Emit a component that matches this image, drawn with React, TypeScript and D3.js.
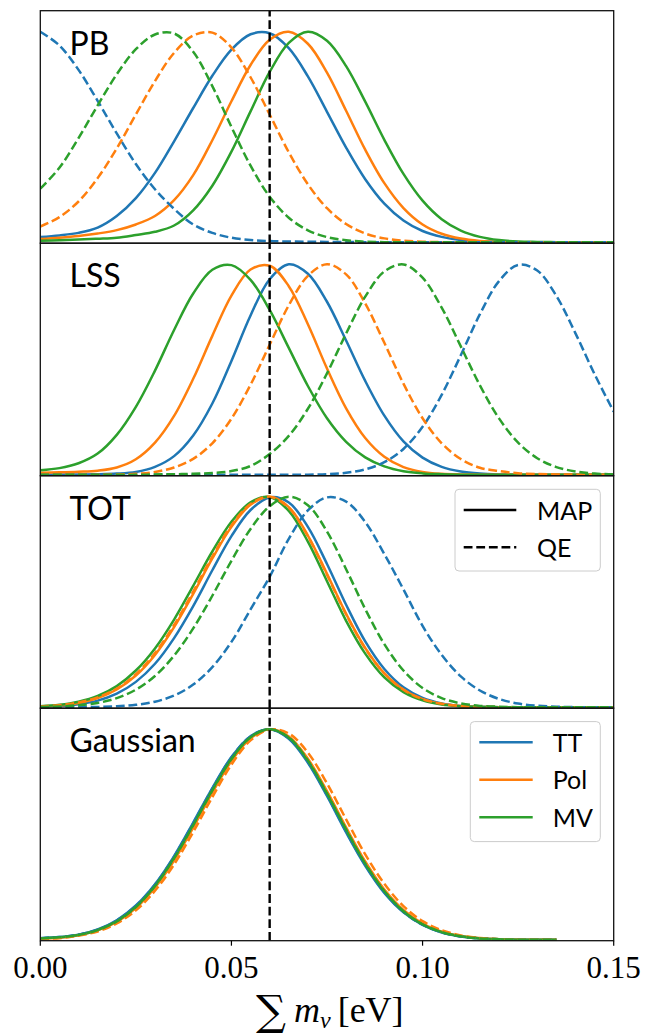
import React from "react";
import * as d3 from "d3";

// ---------- data ----------
// x grid of the posteriors (sum of neutrino masses, eV)
const massGrid = [
  0, 0.005, 0.01, 0.015, 0.02, 0.025, 0.03, 0.035, 0.04, 0.045, 0.05,
  0.055, 0.06, 0.065, 0.07, 0.075, 0.08, 0.085, 0.09, 0.095, 0.1,
  0.105, 0.11, 0.115, 0.12, 0.125, 0.13, 0.135, 0.14, 0.145, 0.15,
];

const seriesNames = ["TT", "Pol", "MV"];
const seriesColors = ["#1f77b4", "#ff7f0e", "#2ca02c"];
const methodNames = ["MAP", "QE"];
const panelLabels = ["PB", "LSS", "TOT", "Gaussian"];
const xTicks = [0, 0.05, 0.1, 0.15];
const xTickLabels = ["0.00", "0.05", "0.10", "0.15"];
const trueMass = 0.06;

// PB
const pbMapTT = [0.025, 0.033, 0.045, 0.07, 0.125, 0.21, 0.33, 0.48, 0.638, 0.791, 0.915, 0.988, 0.993, 0.922, 0.788, 0.62, 0.45, 0.3, 0.184, 0.104, 0.054, 0.026, 0.011, 0.005, 0.002, 0.001, 0, 0, 0, 0, 0];
const pbMapPol = [0.016, 0.022, 0.03, 0.042, 0.058, 0.085, 0.125, 0.2, 0.319, 0.485, 0.67, 0.842, 0.962, 1.0, 0.943, 0.806, 0.625, 0.44, 0.281, 0.163, 0.085, 0.041, 0.018, 0.007, 0.002, 0.001, 0, 0, 0, 0, 0];
const pbMapMV = [0.008, 0.01, 0.013, 0.017, 0.022, 0.035, 0.05, 0.08, 0.152, 0.269, 0.431, 0.622, 0.809, 0.947, 1.0, 0.957, 0.837, 0.668, 0.487, 0.325, 0.198, 0.11, 0.056, 0.026, 0.011, 0.004, 0.002, 0.001, 0, 0, 0];
const pbQeTT = [1.0, 0.935, 0.819, 0.672, 0.517, 0.372, 0.252, 0.159, 0.085, 0.045, 0.022, 0.011, 0.006, 0.004, 0.003, 0.002, 0.002, 0.001, 0.001, 0, 0, 0, 0, 0, 0, 0, 0, 0, 0, 0, 0];
const pbQePol = [0.075, 0.12, 0.194, 0.305, 0.446, 0.607, 0.766, 0.9, 0.982, 0.996, 0.925, 0.784, 0.607, 0.428, 0.276, 0.162, 0.087, 0.042, 0.019, 0.008, 0.003, 0.001, 0, 0, 0, 0, 0, 0, 0, 0, 0];
const pbQeMV = [0.255, 0.354, 0.495, 0.65, 0.798, 0.917, 0.987, 0.992, 0.905, 0.742, 0.548, 0.364, 0.217, 0.117, 0.057, 0.025, 0.01, 0.003, 0.001, 0, 0, 0, 0, 0, 0, 0, 0, 0, 0, 0, 0];

// LSS
const lssMapTT = [0.002, 0.002, 0.002, 0.003, 0.006, 0.014, 0.038, 0.089, 0.187, 0.339, 0.541, 0.757, 0.929, 1.0, 0.955, 0.822, 0.638, 0.446, 0.281, 0.159, 0.082, 0.038, 0.016, 0.006, 0.002, 0.001, 0, 0, 0, 0, 0];
const lssMapPol = [0.01, 0.012, 0.015, 0.02, 0.035, 0.074, 0.153, 0.28, 0.456, 0.66, 0.851, 0.975, 0.993, 0.896, 0.715, 0.505, 0.316, 0.175, 0.086, 0.037, 0.014, 0.005, 0.002, 0.001, 0, 0, 0, 0, 0, 0, 0];
const lssMapMV = [0.022, 0.032, 0.055, 0.101, 0.19, 0.323, 0.495, 0.688, 0.861, 0.974, 0.996, 0.926, 0.783, 0.603, 0.422, 0.269, 0.157, 0.083, 0.04, 0.017, 0.007, 0.003, 0.001, 0, 0, 0, 0, 0, 0, 0, 0];
const lssQeTT = [0, 0, 0, 0, 0, 0, 0, 0, 0, 0, 0, 0, 0, 0.001, 0.001, 0.003, 0.01, 0.026, 0.06, 0.123, 0.228, 0.38, 0.568, 0.763, 0.92, 0.997, 0.97, 0.85, 0.672, 0.478, 0.3];
const lssQePol = [0, 0, 0, 0, 0.002, 0.005, 0.014, 0.035, 0.076, 0.15, 0.267, 0.428, 0.618, 0.805, 0.945, 1.0, 0.952, 0.814, 0.627, 0.433, 0.269, 0.15, 0.075, 0.034, 0.018, 0.008, 0.004, 0.002, 0.001, 0, 0];
const lssQeMV = [0, 0, 0, 0, 0, 0, 0.002, 0.003, 0.005, 0.009, 0.018, 0.042, 0.099, 0.185, 0.314, 0.482, 0.671, 0.846, 0.966, 0.999, 0.936, 0.794, 0.61, 0.425, 0.268, 0.153, 0.079, 0.037, 0.016, 0.006, 0.002];

// TOT
const totMapTT = [0.002, 0.006, 0.015, 0.032, 0.065, 0.121, 0.207, 0.329, 0.481, 0.651, 0.813, 0.937, 0.997, 0.973, 0.857, 0.681, 0.487, 0.313, 0.182, 0.095, 0.045, 0.019, 0.007, 0.003, 0.001, 0, 0, 0, 0, 0, 0];
const totMapPol = [0.004, 0.009, 0.021, 0.044, 0.085, 0.151, 0.249, 0.381, 0.539, 0.707, 0.857, 0.962, 1.0, 0.951, 0.816, 0.634, 0.444, 0.282, 0.161, 0.083, 0.039, 0.016, 0.006, 0.002, 0.001, 0, 0, 0, 0, 0, 0];
const totMapMV = [0.005, 0.012, 0.027, 0.054, 0.101, 0.175, 0.28, 0.417, 0.577, 0.74, 0.881, 0.974, 0.999, 0.933, 0.787, 0.599, 0.411, 0.255, 0.142, 0.072, 0.033, 0.013, 0.005, 0.002, 0.001, 0, 0, 0, 0, 0, 0];
const totQeTT = [0, 0, 0.001, 0.002, 0.005, 0.012, 0.027, 0.056, 0.108, 0.191, 0.311, 0.465, 0.62, 0.8, 0.935, 0.997, 0.977, 0.88, 0.728, 0.56, 0.387, 0.249, 0.147, 0.08, 0.04, 0.018, 0.008, 0.003, 0.001, 0, 0];
const totQePol = [0.004, 0.01, 0.023, 0.047, 0.089, 0.157, 0.258, 0.391, 0.55, 0.716, 0.864, 0.966, 1.0, 0.947, 0.812, 0.63, 0.442, 0.28, 0.161, 0.084, 0.039, 0.017, 0.006, 0.002, 0.001, 0, 0, 0, 0, 0, 0];
const totQeMV = [0.002, 0.004, 0.01, 0.021, 0.044, 0.084, 0.149, 0.246, 0.375, 0.53, 0.696, 0.847, 0.955, 1.0, 0.96, 0.835, 0.656, 0.467, 0.3, 0.175, 0.092, 0.044, 0.019, 0.007, 0.003, 0.001, 0, 0, 0, 0, 0];

// Gaussian (evaluated up to 0.135 only)
const gaussMapTT = [0.008, 0.013, 0.024, 0.049, 0.093, 0.163, 0.264, 0.398, 0.557, 0.721, 0.868, 0.967, 1.0, 0.955, 0.841, 0.683, 0.51, 0.352, 0.223, 0.131, 0.071, 0.035, 0.016, 0.007, 0.003, 0.001, 0, 0];
const gaussMapPol = [0.006, 0.01, 0.022, 0.045, 0.085, 0.151, 0.249, 0.377, 0.533, 0.699, 0.849, 0.957, 1.0, 0.966, 0.86, 0.706, 0.534, 0.372, 0.239, 0.142, 0.077, 0.039, 0.018, 0.008, 0.003, 0.001, 0, 0];
const gaussMapMV = [0.007, 0.012, 0.023, 0.047, 0.089, 0.157, 0.257, 0.389, 0.547, 0.712, 0.86, 0.963, 1.0, 0.96, 0.849, 0.693, 0.521, 0.36, 0.23, 0.135, 0.073, 0.037, 0.017, 0.007, 0.003, 0.001, 0, 0];
const gaussQeTT = [0.008, 0.013, 0.024, 0.048, 0.092, 0.161, 0.262, 0.395, 0.553, 0.718, 0.866, 0.966, 1.0, 0.957, 0.845, 0.688, 0.515, 0.356, 0.226, 0.133, 0.072, 0.036, 0.016, 0.007, 0.003, 0.001, 0, 0];
const gaussQePol = [0.005, 0.008, 0.02, 0.04, 0.078, 0.14, 0.233, 0.358, 0.512, 0.678, 0.832, 0.947, 0.999, 0.98, 0.889, 0.743, 0.572, 0.406, 0.266, 0.16, 0.089, 0.046, 0.021, 0.009, 0.003, 0.001, 0, 0];
const gaussQeMV = [0.007, 0.012, 0.023, 0.046, 0.088, 0.156, 0.256, 0.388, 0.545, 0.71, 0.859, 0.962, 1.0, 0.961, 0.851, 0.695, 0.523, 0.362, 0.231, 0.136, 0.074, 0.037, 0.017, 0.007, 0.003, 0.001, 0, 0];

const panelData = [
  { map: [pbMapTT, pbMapPol, pbMapMV], qe: [pbQeTT, pbQePol, pbQeMV] },
  { map: [lssMapTT, lssMapPol, lssMapMV], qe: [lssQeTT, lssQePol, lssQeMV] },
  { map: [totMapTT, totMapPol, totMapMV], qe: [totQeTT, totQePol, totQeMV] },
  { map: [gaussMapTT, gaussMapPol, gaussMapMV], qe: [gaussQeTT, gaussQePol, gaussQeMV] },
];

// ---------- layout ----------
const W = 657;
const H = 1034;
const X0 = 40.3;
const X1 = 613.7;
const TOP = 10.7;
const PANEL_H = 232.5;
const DASH = "8.8 3.8";
const LW = 2.5;
const SANS = "Lato, 'Open Sans', sans-serif";
const SERIF = "'Liberation Serif', 'DejaVu Serif', serif";

export default function App() {
  const x = d3.scaleLinear().domain([0, 0.15]).range([X0, X1]);

  return (
    <svg
      width={W}
      height={H}
      viewBox={`0 0 ${W} ${H}`}
      style={{ position: "absolute", left: 0, top: 0, background: "#fff" }}
    >
      <rect x={0} y={0} width={W} height={H} fill="#fff" />
      <defs>
        {panelLabels.map((_, i) => (
          <clipPath id={`clip${i}`} key={i}>
            <rect x={X0} y={TOP + i * PANEL_H} width={X1 - X0} height={PANEL_H} />
          </clipPath>
        ))}
      </defs>
      {panelData.map((pd, i) => {
        const top = TOP + i * PANEL_H;
        const bottom = top + PANEL_H;
        const y = d3.scaleLinear().domain([-0.004, 1.1]).range([bottom, top]);
        const line = d3
          .line<number>()
          .x((_, j) => x(massGrid[j]))
          .y((v) => y(v))
          .curve(d3.curveCatmullRom.alpha(0.5));
        return (
          <g key={i}>
            <g clipPath={`url(#clip${i})`}>
              {pd.map.map((arr, s) => (
                <path
                  key={`m${s}`}
                  d={line(arr) || ""}
                  fill="none"
                  stroke={seriesColors[s]}
                  strokeWidth={LW}
                />
              ))}
              {pd.qe.map((arr, s) => (
                <path
                  key={`q${s}`}
                  d={line(arr) || ""}
                  fill="none"
                  stroke={seriesColors[s]}
                  strokeWidth={LW}
                  strokeDasharray={DASH}
                />
              ))}
              <line
                x1={x(trueMass)}
                x2={x(trueMass)}
                y1={bottom}
                y2={top}
                stroke="#000"
                strokeWidth={2.4}
                strokeDasharray={DASH}
              />
            </g>
            <rect
              x={X0}
              y={top}
              width={X1 - X0}
              height={PANEL_H}
              fill="none"
              stroke="#111"
              strokeWidth={1.3}
            />
            <text x={69.5} y={top + 44} fontFamily={SANS} fontSize={32} fill="#000">
              {panelLabels[i]}
            </text>
          </g>
        );
      })}

      {/* method legend (TOT panel) */}
      {(() => {
        const top = TOP + 2 * PANEL_H;
        const bx = 455;
        const by = top + 13.6;
        return (
          <g>
            <rect x={bx} y={by} width={145.3} height={81.7} rx={4} fill="#fff" fillOpacity={0.8} stroke="#cccccc" strokeWidth={1} />
            {methodNames.map((m, k) => {
              const ry = top + 34.3 + k * 37.3;
              return (
                <g key={m}>
                  <line
                    x1={bx + 8.7}
                    x2={bx + 61.3}
                    y1={ry}
                    y2={ry}
                    stroke="#000"
                    strokeWidth={LW}
                    strokeDasharray={k === 1 ? DASH : undefined}
                  />
                  <text x={bx + 82} y={ry + 9.5} fontFamily={SANS} fontSize={25} fill="#000">
                    {m}
                  </text>
                </g>
              );
            })}
          </g>
        );
      })()}

      {/* series legend (Gaussian panel) */}
      {(() => {
        const top = TOP + 3 * PANEL_H;
        const bx = 470.3;
        const by = top + 13.4;
        return (
          <g>
            <rect x={bx} y={by} width={130} height={120} rx={4} fill="#fff" fillOpacity={0.8} stroke="#cccccc" strokeWidth={1} />
            {seriesNames.map((s, k) => {
              const ry = top + 34 + k * 37.5;
              return (
                <g key={s}>
                  <line x1={bx + 9} x2={bx + 62.4} y1={ry} y2={ry} stroke={seriesColors[k]} strokeWidth={LW} />
                  <text x={bx + 82.4} y={ry + 9.5} fontFamily={SANS} fontSize={25} fill="#000">
                    {s}
                  </text>
                </g>
              );
            })}
          </g>
        );
      })()}

      {/* x axis ticks and labels (bottom panel) */}
      {xTicks.map((t, k) => (
        <g key={t}>
          <line
            x1={x(t)}
            x2={x(t)}
            y1={TOP + 4 * PANEL_H}
            y2={TOP + 4 * PANEL_H + 5}
            stroke="#000"
            strokeWidth={1.2}
          />
          <text
            x={x(t)}
            y={977.5}
            textAnchor="middle"
            fontFamily={SERIF}
            fontSize={31}
            fill="#000"
          >
            {xTickLabels[k]}
          </text>
        </g>
      ))}

      {/* x axis label */}
      <text x={256} y={1025} fontFamily="'DejaVu Serif', serif" fontSize={42} fill="#000">
        ∑
      </text>
      <text x={294} y={1022} fontFamily={SERIF} fontSize={36} fill="#000">
        <tspan fontStyle="italic">m</tspan>
        <tspan fontStyle="italic" fontSize={24} dy={6}>
          ν
        </tspan>
        <tspan dx={7} dy={-6}>
          [eV]
        </tspan>
      </text>
    </svg>
  );
}
